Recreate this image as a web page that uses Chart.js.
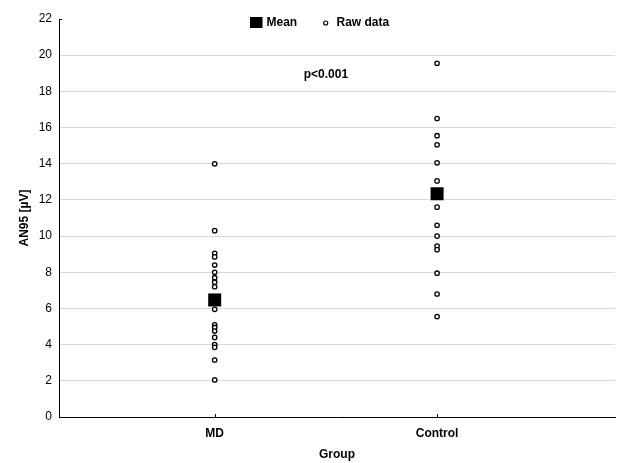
<!DOCTYPE html>
<html>
<head>
<meta charset="utf-8">
<script src="https://cdn.jsdelivr.net/npm/chart.js@4/dist/chart.umd.min.js"></script>
<style>
html, body { margin: 0; padding: 0; background: #fff; }
</style>
</head>
<body>
<canvas id="myChart" width="617" height="463"></canvas>
<script>
//groups on the x axis
let groups = ["MD", "Control"];

//raw values
let mdValues = [14.0, 10.3, 9.05, 8.85, 8.4, 8.0, 7.7, 7.45, 7.2, 5.95,
                5.1, 4.95, 4.75, 4.4, 4.0, 3.85, 3.15, 2.05];
let controlValues = [19.55, 16.5, 15.55, 15.05, 14.05, 13.05, 12.2, 11.6,
                     10.6, 10.0, 9.45, 9.25, 7.95, 6.8, 5.55];

//group means
let means = [6.47, 12.34];

//y axis ticks
let yTicks = [0, 2, 4, 6, 8, 10, 12, 14, 16, 18, 20, 22];

let pText = "p<0.001";

let font = "'Liberation Sans', Arial, sans-serif";

let meanPoints = means.map(function(m, i){ return {x: i + 1, y: m}; });
let rawPoints = mdValues.map(function(v){ return {x: 1, y: v}; })
    .concat(controlValues.map(function(v){ return {x: 2, y: v}; }));

//legend, p value and the small inner tick marks
let notesPlugin = {
    id: "notes",
    afterDraw: function(chart){
        let ctx = chart.ctx;
        let xs = chart.scales.x;
        let ys = chart.scales.y;
        let area = chart.chartArea;
        ctx.save();
        //tiny ticks pointing into the plot
        ctx.strokeStyle = "#000";
        ctx.lineWidth = 1;
        ctx.beginPath();
        groups.forEach(function(g, i){
            let px = Math.round(xs.getPixelForValue(i + 1)) + 0.5;
            ctx.moveTo(px, area.bottom);
            ctx.lineTo(px, area.bottom - 3);
        });
        ctx.moveTo(area.left, Math.round(area.top) + 0.5);
        ctx.lineTo(area.left + 3, Math.round(area.top) + 0.5);
        ctx.stroke();

        ctx.font = "bold 12px " + font;
        ctx.fillStyle = "#000";
        ctx.textBaseline = "middle";
        ctx.textAlign = "left";
        //legend
        ctx.fillRect(250, 17, 12.5, 11);
        ctx.fillText(chart.data.datasets[0].label, 266.5, 23);
        ctx.beginPath();
        ctx.arc(325.7, 23, 2, 0, Math.PI * 2);
        ctx.lineWidth = 1.2;
        ctx.stroke();
        ctx.fillText(chart.data.datasets[1].label, 336.5, 23);
        //p value
        ctx.textAlign = "center";
        ctx.fillText(pText, xs.getPixelForValue(1.5), ys.getPixelForValue(18.9));
        ctx.restore();
    }
};

let data = {
    datasets: [{
        label: "Mean",
        data: meanPoints,
        pointStyle: "rect",
        pointRadius: 9.2,
        pointHoverRadius: 9.2,
        backgroundColor: "#000",
        borderColor: "#000",
        borderWidth: 0
    }, {
        label: "Raw data",
        data: rawPoints,
        pointStyle: "circle",
        pointRadius: 2.2,
        pointHoverRadius: 2.2,
        backgroundColor: "#fff",
        borderColor: "#000",
        borderWidth: 1.3
    }]
};

let config = {
    type: "scatter",
    data: data,
    plugins: [notesPlugin],
    options: {
        responsive: false,
        animation: false,
        devicePixelRatio: 1,
        layout: { autoPadding: false, padding: { top: 19, right: 2, left: 0, bottom: 0 } },
        plugins: {
            legend: { display: false },
            tooltip: { enabled: false }
        },
        scales: {
            x: {
                type: "linear",
                min: 0.3,
                max: 2.8,
                afterBuildTicks: function(axis){
                    axis.ticks = groups.map(function(g, i){ return {value: i + 1}; });
                },
                afterFit: function(axis){ axis.height = 46; },
                ticks: {
                    callback: function(v){ return groups[v - 1]; },
                    font: { family: font, size: 12, weight: "bold" },
                    color: "#000",
                    padding: 9,
                    maxRotation: 0
                },
                grid: { display: false, drawTicks: false },
                border: { display: true, color: "#000", width: 1 },
                title: {
                    display: true,
                    text: "Group",
                    font: { family: font, size: 12, weight: "bold" },
                    color: "#000",
                    padding: { top: 0, bottom: 1 }
                }
            },
            y: {
                min: 0,
                max: 22,
                afterBuildTicks: function(axis){
                    axis.ticks = yTicks.map(function(v){ return {value: v}; });
                },
                afterFit: function(axis){ axis.width = 59; },
                ticks: {
                    font: { family: font, size: 12 },
                    color: "#000",
                    padding: 7
                },
                grid: {
                    drawTicks: false,
                    color: function(c){
                        return (c.tick && c.tick.value === 22) ? "rgba(0,0,0,0)" : "#d9d9d9";
                    },
                    lineWidth: 1
                },
                border: { display: true, color: "#000", width: 1 },
                title: {
                    display: true,
                    text: "AN95 [µV]",
                    font: { family: font, size: 12, weight: "bold" },
                    color: "#000",
                    padding: { top: 17, bottom: 0 }
                }
            }
        }
    }
};

let chart = new Chart(document.getElementById("myChart"), config);
</script>
</body>
</html>
